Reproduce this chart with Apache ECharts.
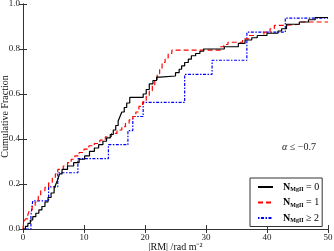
<!DOCTYPE html>
<html>
<head>
<meta charset="utf-8">
<script src="https://cdn.jsdelivr.net/npm/echarts@6/dist/echarts.min.js"></script>
<style>html,body{margin:0;padding:0;background:#fff;}#c{width:334px;height:251px;}</style>
</head>
<body>
<div id="c"></div>
<script>
// N_MgII = 0
var rm0 = [0,0.4,0.8,1.2,1.6,2.1,2.6,3.1,3.6,4.1,4.6,5.1,5.4,5.7,6.0,6.4,7.3,8.3,9.2,10.1,10.9,11.7,12.4,13.1,13.7,14.3,14.8,15.2,15.6,15.9,16.2,16.6,17.0,17.5,19.7,20.2,20.7,21.3,21.9,22.5,25.0,25.6,26.0,26.5,27.1,27.6,28.3,29.0,29.6,33.0,35.3,36.4,37.5,38.4,40.0,41.8,42.4,43.2,45.3,46.8,47.9,50];
var cf0 = [0,0.012,0.025,0.04,0.055,0.07,0.085,0.1,0.12,0.14,0.16,0.18,0.2,0.22,0.245,0.265,0.28,0.295,0.31,0.325,0.345,0.36,0.375,0.39,0.405,0.42,0.44,0.46,0.48,0.5,0.52,0.54,0.56,0.585,0.6,0.62,0.645,0.66,0.675,0.68,0.695,0.71,0.725,0.74,0.755,0.77,0.78,0.79,0.8,0.81,0.825,0.84,0.85,0.86,0.87,0.88,0.89,0.91,0.92,0.93,0.94,0.94];
// N_MgII = 1
var rm1 = [0,0.1,0.4,0.8,1.1,1.5,2.0,2.5,2.9,3.6,4.2,4.8,5.3,5.7,6.6,7.3,7.9,8.5,9.2,10.0,10.8,11.7,12.6,13.5,14.5,15.4,16.2,16.8,17.4,18.0,18.5,19.0,19.6,20.2,20.7,21.2,21.6,22.0,22.4,22.8,23.3,23.8,24.4,32.4,32.9,33.6,36.0,37.0,39.5,40.5,41.2,42.9,45.3,50];
var cf1 = [0,0.027,0.045,0.065,0.085,0.1,0.12,0.145,0.17,0.185,0.205,0.225,0.245,0.265,0.28,0.295,0.31,0.325,0.34,0.355,0.37,0.38,0.395,0.41,0.425,0.44,0.455,0.47,0.485,0.5,0.52,0.545,0.565,0.59,0.615,0.64,0.665,0.69,0.715,0.74,0.76,0.78,0.795,0.81,0.82,0.83,0.845,0.86,0.875,0.89,0.905,0.91,0.92,0.92];
// N_MgII >= 2
var rm2 = [0,1.3,1.6,4.2,5.7,9.0,14.0,17.2,18.0,19.7,26.5,31.0,36.7,43.0,50];
var cf2 = [0,0.0625,0.125,0.1875,0.25,0.3125,0.375,0.4375,0.5,0.5625,0.6875,0.75,0.875,0.9375,0.9375];

var names = ['N_MgII = 0','N_MgII = 1','N_MgII \u2265 2'];
var legendLabels = ['{n|N}{s|MgII} = 0','{n|N}{s|MgII} = 1','{n|N}{s|MgII} \u2265 2'];
var xTicks = [0,10,20,30,40,50];
var yTicks = [0.0,0.2,0.4,0.6,0.8,1.0];

function pairs(xs, ys){ return xs.map(function(x,i){ return [x, ys[i]]; }); }

var FONT = 'Liberation Serif';
var chart = echarts.init(document.getElementById('c'));
var axisCommon = {
  type:'value', axisLine:{show:true, lineStyle:{color:'#333', width:1}},
  axisTick:{show:true, inside:true, length:4, lineStyle:{color:'#333'}},
  splitLine:{show:false}
};
chart.setOption({
  animation:false,
  grid:{left:23, right:6, top:4, bottom:22, containLabel:false, outerBoundsMode:'none'},
  xAxis:[
    Object.assign({}, axisCommon, {min:0, max:50, interval:10, position:'bottom',
      name:'|RM| /rad m\u207B\u00B2', nameLocation:'middle', nameGap:13, nameMoveOverlap:false,
      nameTextStyle:{fontFamily:FONT, fontSize:10, color:'#111', verticalAlign:'top'},
      axisLabel:{show:true, margin:4, fontFamily:FONT, fontSize:9, color:'#222',
        formatter:function(v){ return xTicks.indexOf(v) >= 0 ? String(v) : ''; }}}),
    Object.assign({}, axisCommon, {min:0, max:50, interval:10, position:'top', axisLabel:{show:false}})
  ],
  yAxis:[
    Object.assign({}, axisCommon, {min:0, max:1, interval:0.2, position:'left',
      name:'Cumulative Fraction', nameLocation:'middle', nameGap:13, nameMoveOverlap:false,
      nameTextStyle:{fontFamily:FONT, fontSize:10, color:'#111'},
      axisLabel:{show:true, margin:3, fontFamily:FONT, fontSize:9, color:'#222',
        formatter:function(v){ return v.toFixed(1); }}}),
    Object.assign({}, axisCommon, {min:0, max:1, interval:0.2, position:'right', axisLabel:{show:false}})
  ],
  legend:{
    orient:'vertical', left:250, top:178, padding:[4,3,3,7],
    borderColor:'#333', borderWidth:1, backgroundColor:'#fff',
    itemWidth:15, itemHeight:10, itemGap:5,
    itemStyle:{opacity:0},
    data:names,
    formatter:function(n){ return legendLabels[names.indexOf(n)]; },
    textStyle:{fontFamily:FONT, fontSize:10, color:'#000', padding:[0,0,0,5],
      rich:{n:{fontFamily:FONT, fontSize:10, fontWeight:'bold', color:'#000'},
            s:{fontFamily:FONT, fontSize:6, fontWeight:'bold', color:'#000', padding:[5,0,0,0]}}}
  },
  graphic:[{type:'text', left:282, top:142,
    style:{text:'{a|\u03B1} \u2264 \u22120.7', font:'10px '+FONT, fill:'#222',
      rich:{a:{fontFamily:FONT, fontStyle:'italic', fontSize:10, fill:'#222'}}}}],
  series:[
    {name:names[0], type:'line', step:'end', showSymbol:false, symbol:'none',
      data:pairs(rm0, cf0), lineStyle:{color:'#000', width:1.2, type:'solid'}, itemStyle:{color:'#000'}, z:3},
    {name:names[1], type:'line', step:'end', showSymbol:false, symbol:'none',
      data:pairs(rm1, cf1), lineStyle:{color:'#ff0000', width:1.2, type:[5,3]}, itemStyle:{color:'#ff0000'}, z:2},
    {name:names[2], type:'line', step:'end', showSymbol:false, symbol:'none',
      data:pairs(rm2, cf2), lineStyle:{color:'#0000ff', width:1.2, type:[1.5,1.5,3,1.5]}, itemStyle:{color:'#0000ff'}, z:1}
  ]
});
</script>
</body>
</html>
